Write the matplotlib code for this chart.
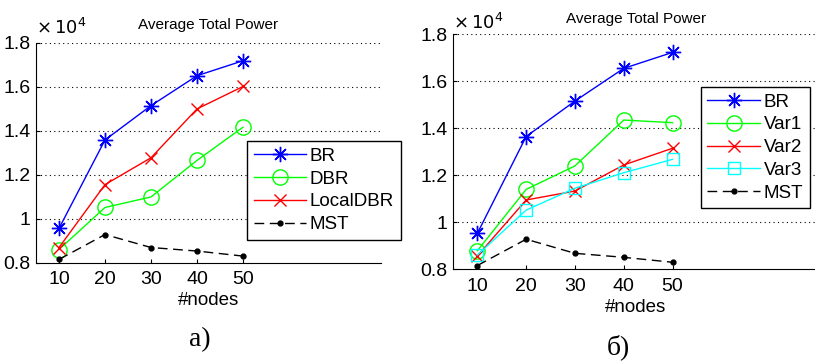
import matplotlib
matplotlib.use("Agg")
import matplotlib.pyplot as plt
from matplotlib.ticker import FixedLocator, FixedFormatter

plt.rcParams['font.family'] = ['Liberation Sans', 'DejaVu Sans']

nodes = [10, 20, 30, 40, 50]

# panel a) values (x 10^4)
a_BR = [0.956, 1.358, 1.514, 1.650, 1.718]
a_DBR = [0.860, 1.051, 1.099, 1.265, 1.416]
a_LocalDBR = [0.869, 1.155, 1.277, 1.499, 1.601]
a_MST = [0.815, 0.928, 0.869, 0.853, 0.830]

# panel б) values (x 10^4)
b_BR = [0.953, 1.365, 1.516, 1.655, 1.723]
b_Var1 = [0.879, 1.140, 1.240, 1.435, 1.424]
b_Var2 = [0.857, 1.095, 1.133, 1.244, 1.315]
b_Var3 = [0.861, 1.052, 1.145, 1.211, 1.268]
b_MST = [0.816, 0.928, 0.868, 0.851, 0.830]

yticks = [0.8, 1.0, 1.2, 1.4, 1.6, 1.8]
ytick_labels = ['0.8', '1', '1.2', '1.4', '1.6', '1.8']
title = 'Average Total Power'
xlabel = '#nodes'

fig = plt.figure(figsize=(8.15, 3.61), dpi=100)

ASTER = (8, 2, 0)

def style(ax):
    ax.set_xlim(5, 80)
    ax.set_ylim(0.8, 1.8)
    ax.set_xticks(nodes)
    ax.set_xticklabels([str(n) for n in nodes])
    ax.yaxis.set_major_locator(FixedLocator(yticks))
    ax.yaxis.set_major_formatter(FixedFormatter(ytick_labels))
    for y in yticks[1:]:
        ax.axhline(y, color='black', linestyle=(0, (1, 3)), linewidth=0.8, zorder=0)
    ax.spines['top'].set_visible(False)
    ax.spines['right'].set_visible(False)
    ax.tick_params(direction='in', length=3, labelsize=14, pad=4)
    ax.tick_params(axis='x', pad=6)
    ax.set_xlabel(xlabel, fontsize=13.5, labelpad=3)

def plot_set(ax, series):
    for vals, lab, col, mark, ms, ls in series:
        kw = dict(color=col, marker=mark, markersize=ms, linewidth=1.0, label=lab, linestyle=ls)
        if mark in ('o', 's'):
            kw['mfc'] = 'none'
        if mark == ASTER:
            kw['markeredgewidth'] = 1.0
        ax.plot(nodes, vals, **kw)

DASH = (0, (7, 4))

ax1 = fig.add_axes([0.0442, 0.2723, 0.4233, 0.6094])
style(ax1)
plot_set(ax1, [
    (a_BR, 'BR', (0, 0, 1), ASTER, 11, '-'),
    (a_DBR, 'DBR', (0, 1, 0), 'o', 11, '-'),
    (a_LocalDBR, 'LocalDBR', (1, 0, 0), 'x', 8, '-'),
    (a_MST, 'MST', 'black', '.', 7, DASH),
])
ax1.set_title(title, fontsize=11, pad=10)
ax1.text(0.0, 1.02, r'$\times\,10^4$', transform=ax1.transAxes, fontsize=13, ha='left', va='bottom')
leg1 = ax1.legend(loc='upper left', bbox_to_anchor=(0.303, 0.609), bbox_transform=fig.transFigure,
                  fontsize=13.5, handlelength=2.8, labelspacing=0.3, handletextpad=0.2,
                  borderpad=0.35, fancybox=False, edgecolor='black', framealpha=1, borderaxespad=0)
leg1.get_frame().set_linewidth(1.0)

ax2 = fig.add_axes([0.5558, 0.254, 0.449, 0.651])
style(ax2)
plot_set(ax2, [
    (b_BR, 'BR', (0, 0, 1), ASTER, 11, '-'),
    (b_Var1, 'Var1', (0, 1, 0), 'o', 11, '-'),
    (b_Var2, 'Var2', (1, 0, 0), 'x', 8, '-'),
    (b_Var3, 'Var3', (0, 1, 1), 's', 8, '-'),
    (b_MST, 'MST', 'black', '.', 7, DASH),
])
ax2.set_title(title, fontsize=11, pad=8)
ax2.text(0.0, 1.005, r'$\times\,10^4$', transform=ax2.transAxes, fontsize=13, ha='left', va='bottom')
leg2 = ax2.legend(loc='upper left', bbox_to_anchor=(0.860, 0.759), bbox_transform=fig.transFigure,
                  fontsize=13.5, handlelength=2.8, labelspacing=0.3, handletextpad=0.2,
                  borderpad=0.35, fancybox=False, edgecolor='black', framealpha=1, borderaxespad=0)
leg2.get_frame().set_linewidth(1.0)

fig.text(200 / 815, 1 - 340 / 361, 'a)', fontsize=20, family=['Liberation Serif', 'DejaVu Serif'],
         ha='center', va='center')
fig.text(618 / 815, 1 - 347 / 361, 'б)', fontsize=20, family=['Liberation Serif', 'DejaVu Serif'],
         ha='center', va='center')

fig.savefig('out.png', dpi=100)
